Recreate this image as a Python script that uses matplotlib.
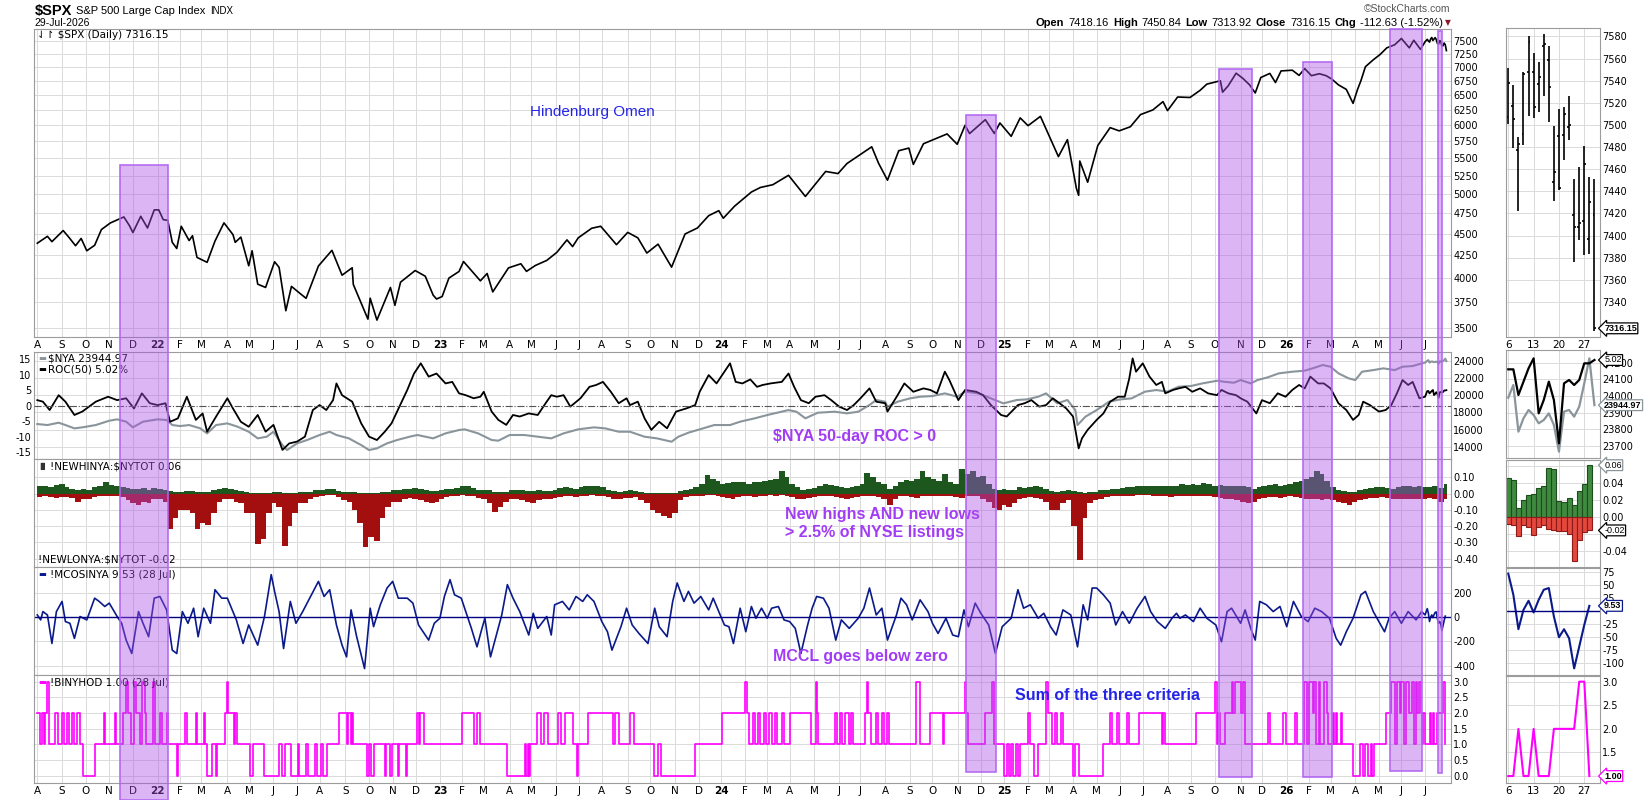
import numpy as np
import pandas as pd
import matplotlib
matplotlib.use("Agg")
import matplotlib.pyplot as plt
from matplotlib.patches import Rectangle
from matplotlib.ticker import NullLocator, NullFormatter
from pandas.tseries.holiday import (AbstractHolidayCalendar, Holiday, USMartinLutherKingJr,
                                    USPresidentsDay, GoodFriday, USMemorialDay, USLaborDay,
                                    USThanksgivingDay, nearest_workday, sunday_to_monday)

plt.rcParams['font.family'] = ['DejaVu Sans']
plt.rcParams['axes.unicode_minus'] = False

# ---------------------------------------------------------------- data
spx = [('2021-08-02',4387),('2021-08-13',4468),('2021-08-19',4405),('2021-09-02',4537),('2021-09-10',4458),
 ('2021-09-20',4358),('2021-09-27',4443),('2021-10-04',4300),('2021-10-13',4363),('2021-10-21',4549),
 ('2021-11-02',4630),('2021-11-18',4704),('2021-11-26',4595),('2021-12-01',4513),('2021-12-10',4712),
 ('2021-12-20',4568),('2021-12-29',4793),('2022-01-04',4793),('2022-01-10',4670),('2022-01-14',4662),
 ('2022-01-21',4398),('2022-01-27',4326),('2022-02-02',4589),('2022-02-11',4418),('2022-02-16',4475),
 ('2022-02-23',4225),('2022-03-08',4170),('2022-03-17',4412),('2022-03-29',4631),('2022-04-08',4488),
 ('2022-04-12',4397),('2022-04-20',4459),('2022-04-29',4132),('2022-05-04',4300),('2022-05-11',3935),
 ('2022-05-20',3901),('2022-06-02',4176),('2022-06-08',4115),('2022-06-16',3667),('2022-06-24',3912),
 ('2022-07-06',3845),('2022-07-14',3790),('2022-07-29',4130),('2022-08-16',4305),('2022-08-29',4030),
 ('2022-09-12',4110),('2022-09-13',3932),('2022-09-30',3586),('2022-10-04',3791),('2022-10-12',3577),
 ('2022-10-28',3901),('2022-11-03',3720),('2022-11-10',3956),('2022-11-30',4080),('2022-12-13',4019),
 ('2022-12-22',3822),('2022-12-28',3783),('2023-01-05',3808),('2023-01-13',3999),('2023-01-27',4070),
 ('2023-02-02',4179),('2023-02-24',3970),('2023-03-06',4048),('2023-03-13',3855),('2023-03-31',4109),
 ('2023-04-18',4154),('2023-04-25',4071),('2023-05-05',4136),('2023-05-19',4191),('2023-06-02',4282),
 ('2023-06-15',4426),('2023-06-23',4348),('2023-06-30',4450),('2023-07-19',4565),('2023-07-31',4589),
 ('2023-08-18',4370),('2023-09-01',4515),('2023-09-15',4450),('2023-09-27',4274),('2023-10-11',4376),
 ('2023-10-27',4117),('2023-11-14',4496),('2023-11-30',4568),('2023-12-14',4720),('2023-12-28',4783),
 ('2024-01-04',4688),('2024-01-19',4840),('2024-02-09',5026),('2024-02-22',5087),('2024-03-08',5124),
 ('2024-03-28',5254),('2024-04-19',4967),('2024-05-15',5308),('2024-05-31',5278),('2024-06-12',5421),
 ('2024-07-16',5667),('2024-07-24',5427),('2024-08-05',5186),('2024-08-19',5608),('2024-08-30',5648),
 ('2024-09-06',5408),('2024-09-19',5713),('2024-10-18',5864),('2024-10-31',5705),('2024-11-11',6001),
 ('2024-11-15',5870),('2024-12-06',6090),('2024-12-18',5872),('2024-12-26',6037),('2025-01-10',5827),
 ('2025-01-23',6119),('2025-02-03',5994),('2025-02-19',6144),('2025-03-13',5521),('2025-03-25',5776),
 ('2025-04-04',5074),('2025-04-08',4982),('2025-04-09',5457),('2025-04-21',5158),('2025-05-02',5686),
 ('2025-05-19',5963),('2025-05-30',5912),('2025-06-13',5977),('2025-06-27',6173),('2025-07-15',6250),
 ('2025-07-28',6389),('2025-08-01',6238),('2025-08-14',6468),('2025-08-29',6460),('2025-09-12',6584),
 ('2025-09-22',6693),('2025-10-08',6753),('2025-10-10',6552),('2025-10-17',6664),('2025-10-28',6890),
 ('2025-11-05',6796),('2025-11-13',6680),('2025-11-20',6538),('2025-11-28',6812),('2025-12-10',6886),
 ('2025-12-17',6721),('2025-12-24',6932),('2026-01-09',6945),('2026-01-20',6850),('2026-01-27',6975),
 ('2026-02-04',6845),('2026-02-13',6880),('2026-02-24',6845),('2026-03-03',6785),('2026-03-11',6680),
 ('2026-03-20',6600),('2026-03-30',6360),('2026-04-06',6600),('2026-04-09',6755),('2026-04-15',7010),
 ('2026-04-24',7140),('2026-05-04',7240),('2026-05-12',7370),('2026-05-21',7430),('2026-06-01',7555),
 ('2026-06-10',7370),('2026-06-16',7520),('2026-06-25',7340),('2026-07-01',7490)]

roc50 = [('2021-08-02',1.8),('2021-08-09',1.3),('2021-08-17',-1.4),('2021-08-27',3.4),('2021-09-07',1.3),
 ('2021-09-17',-3.0),('2021-09-28',-1.9),('2021-10-14',1.3),('2021-10-29',2.9),('2021-11-10',1.8),
 ('2021-11-22',2.4),('2021-12-02',-0.9),('2021-12-13',4.0),('2021-12-22',0.8),('2022-01-03',0.2),
 ('2022-01-12',0.8),('2022-01-19',-5.2),('2022-01-28',-4.1),('2022-02-09',2.9),('2022-02-22',-4.6),
 ('2022-03-02',-2.5),('2022-03-08',-8.4),('2022-03-18',-3.5),('2022-04-01',2.4),('2022-04-08',-0.9),
 ('2022-04-20',-5.2),('2022-04-29',-6.8),('2022-05-11',-3.0),('2022-05-20',-8.4),('2022-06-01',-6.2),
 ('2022-06-13',-14.3),('2022-06-22',-12.2),('2022-07-01',-11.6),('2022-07-13',-10.0),('2022-07-22',-1.4),
 ('2022-08-01',0.2),('2022-08-09',-1.4),('2022-08-17',1.8),('2022-08-22',7.2),('2022-08-29',3.4),
 ('2022-09-12',1.3),('2022-09-22',-5.7),('2022-10-03',-10.0),('2022-10-12',-11.1),('2022-10-21',-8.4),
 ('2022-10-31',-5.7),('2022-11-09',-0.3),('2022-11-18',5.1),('2022-11-29',10.4),('2022-12-07',13.7),
 ('2022-12-16',9.4),('2022-12-28',10.4),('2023-01-10',7.2),('2023-01-19',7.7),('2023-01-27',4.0),
 ('2023-02-06',3.4),('2023-02-15',2.4),('2023-02-24',2.9),('2023-03-01',4.5),('2023-03-10',-1.9),
 ('2023-03-20',-4.6),('2023-03-29',-6.2),('2023-04-06',-3.0),('2023-04-17',-3.5),('2023-04-27',-2.5),
 ('2023-05-09',-3.0),('2023-05-18',0.8),('2023-05-25',3.4),('2023-06-02',2.9),('2023-06-12',3.4),
 ('2023-06-21',-0.3),('2023-07-05',2.4),('2023-07-17',6.1),('2023-07-25',6.7),('2023-08-02',7.7),
 ('2023-08-11',4.5),('2023-08-22',0.8),('2023-08-31',2.4),('2023-09-06',0.2),('2023-09-15',1.3),
 ('2023-09-25',-4.1),('2023-10-03',-7.8),('2023-10-12',-5.2),('2023-10-23',-7.3),('2023-11-02',-1.9),
 ('2023-11-15',-0.9),('2023-11-28',0.2),('2023-12-04',4.5),('2023-12-14',9.9),('2023-12-26',7.2),
 ('2024-01-12',13.7),('2024-01-22',7.7),('2024-01-30',7.2),('2024-02-08',8.5),('2024-02-16',6.1),
 ('2024-02-26',6.7),('2024-03-06',7.2),('2024-03-20',7.7),('2024-03-28',10.4),('2024-04-05',6.1),
 ('2024-04-15',1.8),('2024-04-24',0.8),('2024-05-02',2.9),('2024-05-14',3.4),('2024-05-22',1.8),
 ('2024-06-03',-0.3),('2024-06-12',-1.4),('2024-06-21',0.2),('2024-07-01',2.4),('2024-07-12',5.6),
 ('2024-07-22',1.3),('2024-08-01',0.8),('2024-08-05',-1.9),('2024-08-16',3.4),('2024-08-26',7.2),
 ('2024-09-06',4.5),('2024-09-19',5.6),('2024-09-27',5.1),('2024-10-07',4.0),('2024-10-16',11.0),
 ('2024-10-22',8.3),('2024-11-01',1.8),('2024-11-11',5.1),('2024-11-25',4.5),('2024-12-04',3.4),
 ('2024-12-13',0.2),('2024-12-27',-3.0),('2025-01-06',-3.5),('2025-01-21',0.2),('2025-01-29',0.8),
 ('2025-02-06',1.8),('2025-02-18',-0.3),('2025-02-26',0.2),('2025-03-06',2.4),('2025-03-14',0.8),
 ('2025-03-24',-0.9),('2025-04-01',-3.5),('2025-04-08',-13.8),('2025-04-11',-10.5),('2025-04-21',-7.8),
 ('2025-05-01',-4.6),('2025-05-09',-2.5),('2025-05-19',1.3),('2025-05-29',2.9),('2025-06-06',2.9),
 ('2025-06-12',8.8),('2025-06-17',15.3),('2025-06-23',11.0),('2025-07-01',13.7),('2025-07-10',9.4),
 ('2025-07-18',6.7),('2025-07-25',7.7),('2025-07-30',4.0),('2025-08-08',5.1),('2025-08-15',5.6),
 ('2025-08-25',6.1),('2025-09-03',4.5),('2025-09-12',5.6),('2025-09-23',4.0),('2025-10-03',3.4),
 ('2025-10-09',5.1),('2025-10-17',4.0),('2025-10-28',3.4),('2025-11-03',2.4),('2025-11-11',1.3),
 ('2025-11-21',-2.5),('2025-12-01',1.8),('2025-12-10',0.8),('2025-12-19',4.0),('2025-12-31',2.9),
 ('2026-01-09',5.1),('2026-01-20',6.7),('2026-01-27',5.6),('2026-02-03',9.4),('2026-02-12',7.2),
 ('2026-02-20',7.2),('2026-03-02',5.6),('2026-03-11',0.8),('2026-03-20',-1.4),('2026-03-30',-4.6),
 ('2026-04-07',-3.0),('2026-04-13',1.3),('2026-04-21',0.2),('2026-05-01',-1.9),('2026-05-11',-1.4),
 ('2026-05-18',0.2),('2026-05-26',4.0),('2026-06-02',8.3),('2026-06-09',6.7),('2026-06-15',7.7),
 ('2026-06-24',2.4),('2026-07-01',2.9)]

nya = [('2021-08-02',16635),('2021-08-13',16520),('2021-08-27',16790),('2021-09-07',16520),('2021-09-17',16130),
 ('2021-09-28',16250),('2021-10-14',16520),('2021-11-01',17020),('2021-11-10',17180),('2021-11-22',16910),
 ('2021-12-01',16250),('2021-12-14',16910),('2022-01-03',17180),('2022-01-13',17100),('2022-01-21',16520),
 ('2022-02-01',16400),('2022-02-11',16520),('2022-02-28',16130),('2022-03-08',15550),('2022-03-18',16520),
 ('2022-04-01',16710),('2022-04-14',16330),('2022-04-29',15740),('2022-05-11',14970),('2022-05-23',15160),
 ('2022-06-01',15740),('2022-06-13',14190),('2022-06-17',13610),('2022-07-01',14390),('2022-07-15',14780),
 ('2022-08-01',15360),('2022-08-12',15740),('2022-08-22',15360),('2022-09-07',14970),('2022-09-22',14190),
 ('2022-10-03',13610),('2022-10-12',13810),('2022-10-25',14390),('2022-11-07',14780),('2022-11-22',15160),
 ('2022-12-02',15360),('2022-12-22',14970),('2023-01-10',15550),('2023-01-27',15940),('2023-02-03',16020),
 ('2023-02-22',15550),('2023-03-10',14780),('2023-03-20',14700),('2023-04-03',15360),('2023-04-21',15360),
 ('2023-05-09',15160),('2023-05-25',14970),('2023-06-12',15550),('2023-06-30',16020),('2023-07-21',16250),
 ('2023-08-04',16130),('2023-08-22',15740),('2023-09-06',15740),('2023-09-25',15160),('2023-10-10',14970),
 ('2023-10-27',14580),('2023-11-06',15160),('2023-11-17',15630),('2023-12-04',16020),('2023-12-21',16520),
 ('2024-01-12',16520),('2024-01-26',16910),('2024-02-14',17300),('2024-03-01',17680),('2024-03-28',18260),
 ('2024-04-09',18070),('2024-04-19',17300),('2024-05-06',17950),('2024-05-28',18070),('2024-06-12',17880),
 ('2024-06-27',18070),('2024-07-12',18850),('2024-07-22',19430),('2024-08-01',19230),('2024-08-05',18650),
 ('2024-08-16',19230),('2024-09-03',19620),('2024-09-16',19810),('2024-10-01',19890),('2024-10-16',20200),
 ('2024-10-31',19810),('2024-11-11',20400),('2024-11-27',20200),('2024-12-13',19620),('2024-12-31',19040),
 ('2025-01-17',19430),('2025-01-31',19500),('2025-02-14',19810),('2025-02-26',20200),('2025-03-12',19040),
 ('2025-03-25',19430),('2025-04-03',18260),('2025-04-07',16520),('2025-04-16',17490),('2025-05-01',18260),
 ('2025-05-16',19230),('2025-06-02',19500),('2025-06-16',19620),('2025-07-03',20400),('2025-07-18',20590),
 ('2025-08-01',20400),('2025-08-15',20980),('2025-09-02',21060),('2025-09-16',21360),('2025-10-03',21670),
 ('2025-10-13',21560),('2025-10-24',21440),('2025-11-03',21750),('2025-11-14',21360),('2025-11-24',21750),
 ('2025-12-08',22060),('2025-12-22',22530),('2026-01-09',22720),('2026-01-27',22840),('2026-02-05',23110),
 ('2026-02-19',23500),('2026-03-02',23300),('2026-03-11',22530),('2026-03-24',21950),('2026-04-01',21750),
 ('2026-04-10',22720),('2026-04-24',22910),('2026-05-07',23110),('2026-05-21',22910),('2026-06-02',23300),
 ('2026-06-15',23380),('2026-06-24',23610),('2026-07-01',23770)]

# weekly NYSE new-high ratio (weeks starting Mondays, from 2 Aug 2021)
nh_2021 = [.045,.05,.04,.055,.06, .04,.03,.02,.03, .025,.04,.05,.07, .055,.05,.04,.035,.03, .03,.035,.02,.035]
nh_2022 = [.03,.02,.015,.008,.01, .015,.015,.01,.01, .01,.02,.03,.035, .03,.02,.015,.008, .005,.004,.005,.006,.008,
           .008,.004,.003,.005, .008,.01,.012,.02, .025,.03,.03,.015,.01, .012,.01,.004,.003,
           .003,.004,.008,.012,.02, .025,.03,.03,.035, .03,.02,.015,.015]
nh_2023 = [.02,.03,.03,.035,.045, .05,.035,.025,.02, .02,.01,.008,.012, .02,.025,.02,.015, .015,.02,.015,.015,.025,
           .035,.04,.035,.03, .04,.045,.05,.045,.04, .025,.015,.012,.015, .02,.015,.012,.006,
           .004,.006,.005,.004,.006, .015,.025,.03,.04, .06,.115,.09,.08]
nh_2024 = [.06,.065,.07,.07,.07, .06,.07,.075,.08, .085,.09,.137,.1, .06,.04,.025,.03,.035, .05,.06,.055,.045,
           .04,.035,.04,.045, .06,.13,.1,.07,.06, .03,.05,.07,.085, .08,.09,.137,.1,.09,
           .08,.12,.075,.06, .15,.12,.14,.1, .11,.06,.03,.025,.03]
nh_2025 = [.02,.025,.04,.035, .04,.045,.04,.03, .015,.01,.015,.02,.015, .008,.005,.008,.012, .02,.025,.03,.03,
           .035,.04,.04,.045,.05, .05,.045,.05,.045, .045,.05,.06,.055, .06,.055,.065,.06,.05,
           .055,.05,.045,.05, .045,.04,.03,.04, .05,.055,.06,.05,.055]
nh_2026 = [.06,.07,.08,.09, .1,.14,.12,.08, .04,.02,.015,.012,.01, .02,.03,.035,.04, .04,.035,.03,.04,
           .045,.05,.04,.045,.04, .04,.045,.035,.06]

# weekly NYSE new-low ratio (negative)
nl_2021 = [-.02,-.015,-.02,-.025,-.02, -.02,-.025,-.05,-.03, -.035,-.02,-.015,-.012,
           -.012,-.015,-.02,-.04,-.06, -.07,-.05,-.06,-.035]
nl_2022 = [-.03,-.05,-.22,-.15,-.1, -.1,-.12,-.22,-.18, -.19,-.12,-.05,-.03, -.03,-.05,-.06,-.12,
           -.12,-.31,-.28,-.12,-.06, -.08,-.32,-.2,-.12, -.06,-.06,-.03,-.02, -.015,-.01,-.01,-.02,-.04,
           -.05,-.1,-.18,-.33, -.27,-.29,-.15,-.08,-.05, -.05,-.03,-.025,-.03, -.04,-.05,-.06,-.05]
nl_2023 = [-.03,-.02,-.015,-.015,-.01, -.012,-.015,-.025,-.03, -.06,-.11,-.08,-.05, -.03,-.03,-.04,-.05,
           -.06,-.04,-.03,-.03,-.025, -.02,-.015,-.015,-.02, -.015,-.012,-.01,-.012,-.012,
           -.02,-.03,-.035,-.025, -.025,-.02,-.04,-.06, -.1,-.12,-.14,-.15,-.12,
           -.04,-.02,-.015,-.015, -.012,-.01,-.01,-.012]
nl_2024 = [-.02,-.025,-.03,-.02,-.015, -.015,-.02,-.015,-.012, -.01,-.012,-.01,-.012, -.02,-.03,-.035,-.025,-.02,
           -.015,-.012,-.015,-.02, -.025,-.03,-.025,-.02, -.015,-.012,-.015,-.02,-.03,
           -.07,-.035,-.015,-.012, -.02,-.025,-.012,-.012,-.015, -.015,-.012,-.015,-.02,
           -.025,-.012,-.012,-.015, -.03,-.05,-.09,-.1,-.07]
nl_2025 = [-.08,-.06,-.03,-.025, -.02,-.025,-.035,-.05, -.1,-.1,-.06,-.04,-.2, -.41,-.15,-.06,-.04,
           -.03,-.02,-.015,-.015, -.015,-.012,-.012,-.01,-.01, -.01,-.012,-.012,-.015,
           -.02,-.015,-.015,-.012, -.015,-.012,-.012,-.015,-.02, -.025,-.035,-.03,-.04,
           -.05,-.06,-.05,-.03, -.025,-.02,-.02,-.025,-.02]
nl_2026 = [-.015,-.02,-.025,-.03, -.035,-.03,-.04,-.035, -.04,-.05,-.06,-.07,-.05, -.04,-.03,-.025,-.025,
           -.02,-.025,-.03,-.035, -.03,-.035,-.03,-.03,-.035, -.025,-.03,-.05,-.03]

mccl_dates = ['2021-08-02','2021-08-05','2021-08-09','2021-08-13','2021-08-19','2021-08-25','2021-09-01','2021-09-07',
 '2021-09-13','2021-09-17','2021-09-24','2021-10-04','2021-10-13','2021-10-19','2021-10-26','2021-11-01','2021-11-10',
 '2021-11-16','2021-11-22','2021-11-30','2021-12-08','2021-12-14','2021-12-21','2021-12-29',
 '2022-01-05','2022-01-13','2022-01-21','2022-01-27','2022-02-03','2022-02-10','2022-02-17','2022-02-24','2022-03-03',
 '2022-03-11','2022-03-17','2022-03-25','2022-04-01','2022-04-13','2022-04-22','2022-04-29','2022-05-11','2022-05-19',
 '2022-05-27','2022-06-02','2022-06-08','2022-06-14','2022-06-23','2022-06-30','2022-07-11','2022-07-20','2022-07-29',
 '2022-08-05','2022-08-12','2022-08-22','2022-08-29','2022-09-02','2022-09-09','2022-09-16','2022-09-27','2022-10-04',
 '2022-10-07','2022-10-17','2022-10-25','2022-11-01','2022-11-08','2022-11-18','2022-11-28','2022-12-05','2022-12-16',
 '2022-12-23',
 '2023-01-03','2023-01-09','2023-01-17','2023-01-23','2023-01-31','2023-02-03','2023-02-13','2023-02-21','2023-02-27',
 '2023-03-02','2023-03-09','2023-03-17','2023-03-23','2023-03-30','2023-04-06','2023-04-17','2023-04-27','2023-05-03',
 '2023-05-09','2023-05-19','2023-05-25','2023-05-31','2023-06-09','2023-06-20','2023-06-28','2023-07-07','2023-07-13',
 '2023-07-21','2023-08-01','2023-08-08','2023-08-14','2023-08-24','2023-08-31','2023-09-08','2023-09-18','2023-09-28',
 '2023-10-06','2023-10-12','2023-10-23','2023-10-30','2023-11-03','2023-11-13','2023-11-17','2023-11-27','2023-12-05',
 '2023-12-14','2023-12-20',
 '2024-01-05','2024-01-11','2024-01-18','2024-01-26','2024-02-02','2024-02-09','2024-02-15','2024-02-23','2024-03-01',
 '2024-03-07','2024-03-15','2024-03-22','2024-04-01','2024-04-08','2024-04-15','2024-04-23','2024-04-29','2024-05-03',
 '2024-05-13','2024-05-20','2024-05-29','2024-06-05','2024-06-14','2024-06-27','2024-07-05','2024-07-12','2024-07-22',
 '2024-07-29','2024-08-05','2024-08-15','2024-08-21','2024-08-28','2024-09-05','2024-09-16','2024-09-25','2024-10-01',
 '2024-10-08','2024-10-17','2024-10-25','2024-11-01','2024-11-08','2024-11-14','2024-11-22','2024-12-02','2024-12-11',
 '2024-12-19','2024-12-30',
 '2025-01-10','2025-01-21','2025-01-28','2025-02-05','2025-02-14','2025-02-24','2025-03-04','2025-03-11','2025-03-19',
 '2025-03-28','2025-04-07','2025-04-14','2025-04-21','2025-04-25','2025-05-01','2025-05-09','2025-05-19','2025-05-27',
 '2025-06-04','2025-06-12','2025-06-24','2025-07-03','2025-07-11','2025-07-21','2025-07-30','2025-08-07','2025-08-13',
 '2025-08-18','2025-08-25','2025-09-04','2025-09-12','2025-09-22','2025-10-02','2025-10-09','2025-10-16','2025-10-22',
 '2025-11-03','2025-11-07','2025-11-14','2025-11-20','2025-11-26','2025-12-05','2025-12-15','2025-12-23',
 '2026-01-02','2026-01-12','2026-01-22','2026-01-30','2026-02-09','2026-02-18','2026-02-27','2026-03-09','2026-03-13',
 '2026-03-20','2026-03-30','2026-04-09','2026-04-15','2026-04-24','2026-05-01','2026-05-08','2026-05-14','2026-05-21',
 '2026-06-01','2026-06-09','2026-06-18','2026-06-26','2026-07-01']
mccl_vals = [19,-22,47,19,-217,47,131,-36,-50,-175,6,-22,158,131,89,117,6,-50,-189,-300,47,-50,-161,158,
 172,61,-272,-300,47,-50,75,-161,75,-50,228,158,158,-22,-217,-64,-231,6,353,214,47,-259,131,-50,47,172,297,172,228,
 -64,-231,-328,61,-161,-425,75,-78,103,242,297,158,158,117,-64,-189,-50,
 -8,172,311,186,158,75,-92,-245,-106,-8,-328,-120,19,270,158,47,-147,33,-92,6,-147,103,131,61,172,131,186,131,
 -36,-120,-272,-78,75,-64,-134,-217,75,-78,-161,131,284,131,214,117,172,61,158,
 -64,-78,-217,75,-120,89,-8,75,-8,75,89,-22,-36,-92,-300,-64,75,172,158,75,-189,-22,-92,-8,75,242,19,75,-189,19,
 158,103,-22,144,47,-50,-134,-8,-147,-161,61,-78,117,33,-64,-300,-78,
 -8,228,75,103,-8,33,-78,-147,61,19,-245,103,-22,242,242,186,117,-64,47,-50,75,172,47,-36,-92,-8,33,-8,19,-36,75,
 -8,-64,-203,47,75,-50,61,-92,-189,131,103,47,89,
 -78,131,6,-36,75,47,-8,-175,-231,-120,-8,186,214,47,-36,-120,-8,47,-50,47,-22,47,19]

binyhod_changes = [('2021-08-02',2),('2021-08-04',1),('2021-08-06',2),('2021-08-10',1),('2021-08-11',2),('2021-08-13',3),
 ('2021-08-16',1),('2021-08-24',2),('2021-08-26',1),('2021-09-01',2),('2021-09-03',1),('2021-09-08',2),('2021-09-10',1),
 ('2021-09-15',2),('2021-09-17',1),('2021-09-21',2),('2021-09-24',1),('2021-09-29',0),('2021-10-13',1),('2021-10-25',2),
 ('2021-10-26',1),('2021-11-08',2),('2021-11-09',1),('2021-11-17',2),('2021-11-22',3),('2021-11-24',2),('2021-11-29',1),
 ('2021-12-02',3),('2021-12-06',2),('2021-12-09',1),('2021-12-13',3),('2021-12-16',2),('2021-12-17',1),('2021-12-28',3),
 ('2021-12-30',1),('2022-01-05',2),('2022-01-07',1),('2022-01-13',2),('2022-01-14',1),('2022-01-27',0),('2022-01-28',1),
 ('2022-02-07',2),('2022-02-09',1),('2022-02-22',2),('2022-02-23',1),('2022-03-03',2),('2022-03-04',1),('2022-03-08',0),
 ('2022-03-14',1),('2022-03-18',0),('2022-03-21',1),('2022-03-30',2),('2022-04-01',3),('2022-04-04',2),('2022-04-11',1),
 ('2022-04-12',2),('2022-04-14',1),('2022-05-02',0),('2022-05-05',1),('2022-05-19',0),('2022-06-08',1),('2022-06-13',0),
 ('2022-06-15',1),('2022-06-24',0),('2022-07-05',1),('2022-07-06',0),('2022-07-14',1),('2022-07-18',0),('2022-07-26',1),
 ('2022-07-28',0),('2022-08-02',1),('2022-08-04',0),('2022-08-10',1),('2022-08-24',2),('2022-09-02',1),('2022-09-06',2),
 ('2022-09-09',1),('2022-09-12',2),('2022-09-13',1),('2022-09-29',0),('2022-10-03',1),('2022-10-05',0),('2022-10-07',1),
 ('2022-10-21',0),('2022-10-24',1),('2022-10-28',0),('2022-10-31',1),('2022-11-08',0),('2022-11-09',1),('2022-11-17',0),
 ('2022-11-18',1),('2022-12-02',2),('2022-12-05',1),('2022-12-06',2),('2022-12-12',1),('2023-02-01',2),('2023-02-15',1),
 ('2023-02-21',2),('2023-02-24',1),('2023-03-30',0),('2023-04-24',1),('2023-04-25',0),('2023-04-26',1),('2023-04-27',0),
 ('2023-04-28',1),('2023-05-08',2),('2023-05-12',1),('2023-05-17',2),('2023-05-22',1),('2023-06-05',2),('2023-06-08',1),
 ('2023-06-13',2),('2023-06-23',1),('2023-06-29',0),('2023-06-30',1),('2023-07-14',2),('2023-08-15',1),('2023-08-17',2),
 ('2023-08-22',1),('2023-09-06',2),('2023-09-12',1),('2023-10-05',0),('2023-10-11',1),('2023-10-16',0),('2023-11-28',1),
 ('2024-01-03',2),('2024-02-01',3),('2024-02-05',2),('2024-02-07',1),('2024-02-12',2),('2024-02-14',1),('2024-02-20',2),
 ('2024-02-22',1),('2024-02-27',2),('2024-02-29',1),('2024-03-05',2),('2024-03-07',1),('2024-03-12',2),('2024-03-14',1),
 ('2024-03-20',2),('2024-03-22',1),('2024-04-01',2),('2024-04-26',1),('2024-05-02',3),('2024-05-03',2),('2024-05-06',1),
 ('2024-05-28',2),('2024-05-30',1),('2024-06-04',2),('2024-06-06',1),('2024-06-10',2),('2024-06-14',1),('2024-06-18',2),
 ('2024-06-20',1),('2024-07-08',2),('2024-07-10',3),('2024-07-11',2),('2024-07-15',1),('2024-07-22',2),('2024-07-24',1),
 ('2024-07-29',2),('2024-07-31',1),('2024-08-05',2),('2024-08-06',1),('2024-09-10',3),('2024-09-16',1),('2024-09-27',2),
 ('2024-10-14',1),('2024-10-15',2),('2024-11-11',3),('2024-11-12',2),('2024-11-14',1),('2024-12-06',2),('2024-12-16',3),
 ('2024-12-18',1),('2025-01-02',0),('2025-01-06',1),('2025-01-08',0),('2025-01-10',1),('2025-01-14',0),('2025-01-16',1),
 ('2025-01-21',0),('2025-01-23',1),('2025-02-03',2),('2025-02-05',1),('2025-02-10',0),('2025-02-14',1),('2025-02-26',3),
 ('2025-02-28',2),('2025-03-05',1),('2025-03-10',2),('2025-03-12',1),('2025-03-17',2),('2025-03-19',1),('2025-04-01',0),
 ('2025-04-03',1),('2025-04-08',0),('2025-05-09',1),('2025-05-19',2),('2025-05-21',1),('2025-05-28',2),('2025-05-30',1),
 ('2025-06-10',2),('2025-06-12',1),('2025-06-26',2),('2025-07-25',1),('2025-07-28',2),('2025-07-30',1),('2025-09-08',2),
 ('2025-10-01',3),('2025-10-03',1),('2025-10-06',2),('2025-10-08',1),('2025-10-14',2),('2025-10-22',3),('2025-10-23',2),
 ('2025-10-27',3),('2025-11-03',2),('2025-11-05',3),('2025-11-07',1),('2025-12-08',2),('2025-12-10',1),('2025-12-29',2),
 ('2025-12-31',1),('2026-01-13',2),('2026-01-15',1),('2026-01-26',3),('2026-01-29',1),('2026-02-02',3),('2026-02-05',2),
 ('2026-02-06',3),('2026-02-10',1),('2026-02-13',3),('2026-02-17',1),('2026-02-20',3),('2026-02-25',2),('2026-02-26',1),
 ('2026-03-04',2),('2026-03-05',1),('2026-03-09',2),('2026-03-10',1),('2026-03-13',2),('2026-03-16',1),('2026-03-30',0),
 ('2026-04-08',1),('2026-04-13',0),('2026-04-15',1),('2026-04-17',0),('2026-04-22',1),('2026-04-23',0),('2026-04-27',1),
 ('2026-05-11',2),('2026-05-18',3),('2026-05-21',1),('2026-05-26',3),('2026-05-29',2),('2026-06-01',3),('2026-06-03',1),
 ('2026-06-05',3),('2026-06-10',2),('2026-06-12',3),('2026-06-16',1),('2026-06-18',3),('2026-06-22',2),('2026-06-24',3),
 ('2026-06-25',2),('2026-06-26',1),('2026-06-29',2),('2026-07-01',1)]

# July 2026 daily detail (right-hand zoom panel)
mini_dates = ['2026-07-06','2026-07-07','2026-07-08','2026-07-09','2026-07-10','2026-07-13','2026-07-14','2026-07-15',
              '2026-07-16','2026-07-17','2026-07-20','2026-07-21','2026-07-22','2026-07-23','2026-07-24','2026-07-27',
              '2026-07-28','2026-07-29']
mini_open  = [7507,7517,7477,7492,7548,7548,7537,7571,7559,7448,7490,7491,7498,7419,7408,7413,7397,7418.16]
mini_high  = [7551,7536,7489,7548,7580,7565,7557,7582,7571,7499,7514,7516,7526,7451,7462,7481,7453,7450.84]
mini_low   = [7501,7479,7422,7482,7508,7506,7512,7526,7503,7431,7441,7468,7486,7376,7396,7382,7383,7313.92]
mini_close = [7538,7505,7483,7546,7575,7516,7543,7573,7534,7457,7443,7510,7500,7408,7411,7465,7430,7316.15]
mini_nya   = [23990,24066,23786,23866,23916,23886,23836,23856,23896,23826,23666,23906,23916,23876,23936,24076,24226,23944.97]
mini_roc   = [4.74,4.74,3.97,4.37,4.77,5.07,3.42,3.82,4.37,3.82,2.52,4.32,4.42,4.27,4.42,4.92,4.92,5.02]
mini_nh    = [0.046,0.044,0.010,0.020,0.026,0.027,0.034,0.037,0.058,0.056,0.019,0.017,0.022,0.014,0.031,0.039,0.061]
mini_nl    = [-0.009,-0.010,-0.023,-0.010,-0.012,-0.021,-0.012,-0.010,-0.014,-0.016,-0.017,-0.017,-0.020,-0.052,-0.027,-0.018,-0.016]
mini_mccl  = [71.4,30.9,-35.4,1.9,19.3,-3.2,21.2,40.5,43.8,-10.9,-50.8,-35.4,-52.8,-110.7,-68.9,-27.0,9.53]
mini_binyhod = [1,1,2,1,1,2,1,1,1,2,2,2,2,2,3,3,1]
mini_day_labels = ['6', '13', '20', '27']

# Hindenburg Omen highlight periods: start, end, top (S&P price), bottom (BINYHOD value, None = page bottom)
hl_start = ['2021-11-15', '2024-11-12', '2025-10-07', '2026-01-26', '2026-05-15', '2026-07-20']
hl_end   = ['2022-01-14', '2024-12-19', '2025-11-17', '2026-03-03', '2026-06-26', '2026-07-23']
hl_top   = [5401, 6167, 6969, 7094, 7748, 7710]
hl_bot   = [None, 0.13, -0.03, -0.03, 0.15, 0.08]

# ---------------------------------------------------------------- trading calendar
class NYSECalendar(AbstractHolidayCalendar):
    rules = [Holiday('NewYear', month=1, day=1, observance=sunday_to_monday),
             USMartinLutherKingJr, USPresidentsDay, GoodFriday, USMemorialDay,
             Holiday('Juneteenth', month=6, day=19, start_date='2022-01-01', observance=nearest_workday),
             Holiday('July4', month=7, day=4, observance=nearest_workday),
             USLaborDay, USThanksgivingDay,
             Holiday('Christmas', month=12, day=25, observance=nearest_workday)]

hol = NYSECalendar().holidays(start='2021-07-01', end='2026-12-31')
bd = pd.bdate_range('2021-08-02', '2026-07-29')
sessions = bd[~bd.isin(hol)]
N = len(sessions)


def sidx(dates):
    d = pd.to_datetime(pd.Index(list(dates))).values
    return np.searchsorted(sessions.values, d)


def unzip(pairs):
    return [p[0] for p in pairs], [p[1] for p in pairs]

# ---------------------------------------------------------------- figure
W, H = 1650, 800
fig = plt.figure(figsize=(W / 100, H / 100), dpi=100)
fig.patch.set_facecolor('white')
renderer = fig.canvas.get_renderer()


def box(x0, y0, x1, y1):
    return [x0 / W, 1 - y1 / H, (x1 - x0) / W, (y1 - y0) / H]


def ftext(x, y, s, **kw):
    kw.setdefault('va', 'center')
    return fig.text(x / W, 1 - y / H, s, **kw)


def chain(x, y, parts, gap=4, **kw):
    for s, size, bold in parts:
        t = ftext(x, y, s, fontsize=size, fontweight='bold' if bold else 'normal', **kw)
        x = t.get_window_extent(renderer).x1 + gap
    return x


GRID = '#dadada'
FRAME = '#9c9c9c'
GREY = '#8a959b'
NAVY = '#0b1a8a'
MAGENTA = '#ff00ff'
PURPLE = '#a23cf5'
BLUE = '#2424e8'

ax1 = fig.add_axes(box(34, 29, 1451, 337))
ax2 = fig.add_axes(box(34, 352, 1451, 459), sharex=ax1)
ax3 = fig.add_axes(box(34, 459, 1451, 567), sharex=ax1)
ax4 = fig.add_axes(box(34, 567, 1451, 675), sharex=ax1)
ax5 = fig.add_axes(box(34, 675, 1451, 783), sharex=ax1)
m1 = fig.add_axes(box(1506, 28, 1600, 337))
m2 = fig.add_axes(box(1506, 350, 1600, 458), sharex=m1)
m3 = fig.add_axes(box(1506, 460, 1600, 567), sharex=m1)
m4 = fig.add_axes(box(1506, 568, 1600, 675), sharex=m1)
m5 = fig.add_axes(box(1506, 676, 1600, 783), sharex=m1)


def style(ax):
    for s in ax.spines.values():
        s.set_color(FRAME)
        s.set_linewidth(0.8)
    ax.grid(True, color=GRID, lw=0.7)
    ax.set_axisbelow(True)
    ax.yaxis.tick_right()
    ax.tick_params(axis='both', which='both', labelsize=7, length=0, pad=1.5)


for a in (ax1, ax2, ax3, ax4, ax5, m1, m2, m3, m4, m5):
    style(a)

# x axis (trading-day positions)
kpx = (1446.4 - 37.3) / (N - 1)
ax1.set_xlim(-(37.3 - 34) / kpx, (N - 1) + (1451 - 1446.4) / kpx)
months = pd.date_range('2021-08-01', '2026-07-01', freq='MS')
mpos = sidx(months)
mlab = [m.strftime('%y') if m.month == 1 else m.strftime('%b')[0] for m in months]
for a in (ax1, ax2, ax3, ax4, ax5):
    a.set_xticks(mpos)
    a.tick_params(axis='x', labelbottom=False)
for a in (ax1, ax5):
    a.set_xticklabels(mlab)
    a.tick_params(axis='x', labelbottom=True, labelsize=7.5, pad=2)
    for lbl, m in zip(a.get_xticklabels(), months):
        if m.month == 1:
            lbl.set_fontweight('bold')

# panel 1: S&P 500
d, v = unzip(spx)
ax1.plot(sidx(d + mini_dates), v + mini_close, color='black', lw=1.2)
ax1.set_yscale('log')
ax1.set_ylim(3420, 7748)
ax1.yaxis.set_minor_locator(NullLocator())
ax1.yaxis.set_minor_formatter(NullFormatter())
ticks1 = list(range(3500, 7501, 250))
ax1.set_yticks(ticks1)
ax1.set_yticklabels([str(t) for t in ticks1])

# panel 2: NYA (right scale) and ROC(50) (left scale)
d, v = unzip(nya)
ax2.plot(sidx(d + mini_dates), v + mini_nya, color=GREY, lw=1.5)
ax2.set_ylim(12570, 25012)
ax2.set_yticks(range(14000, 24001, 2000))
ax2r = ax2.twinx()
ax2.yaxis.tick_right()
for s in ax2r.spines.values():
    s.set_visible(False)
ax2r.yaxis.tick_left()
ax2r.tick_params(axis='y', labelsize=7, length=0, pad=2)
d, v = unzip(roc50)
ax2r.plot(sidx(d + mini_dates), v + mini_roc, color='black', lw=1.3)
ax2r.axhline(0, color='#555555', lw=0.8, ls='-.')
ax2r.set_ylim(-17.23, 17.36)
ax2r.set_yticks(range(-15, 16, 5))

# panel 3: new highs / new lows
nh = nh_2021 + nh_2022 + nh_2023 + nh_2024 + nh_2025 + nh_2026
nl = nl_2021 + nl_2022 + nl_2023 + nl_2024 + nl_2025 + nl_2026
wk = pd.date_range('2021-08-02', periods=len(nh), freq='W-MON')
ws = sidx(wk)
we = np.append(ws[1:], N)
wc = (ws + we - 1) / 2.0
ax3.bar(wc, nh, width=(we - ws), color='#1d571d', linewidth=0)
ax3.bar(wc, nl, width=(we - ws), color='#a30e0e', linewidth=0)
ax3.set_ylim(-0.452, 0.214)
t3 = [0.10, 0.0, -0.10, -0.20, -0.30, -0.40]
ax3.set_yticks(t3)
ax3.set_yticklabels(['%.2f' % t for t in t3])

# panel 4: McClellan oscillator
ax4.plot(sidx(mccl_dates + mini_dates[:-1]), mccl_vals + mini_mccl, color=NAVY, lw=1.2)
ax4.axhline(0, color='#000080', lw=1.0)
ax4.set_ylim(-478, 416)
ax4.set_yticks([200, 0, -200, -400])

# panel 5: sum of criteria
d, v = unzip(binyhod_changes)
ax5.plot(sidx(d + mini_dates[:-1]), v + mini_binyhod, color=MAGENTA, lw=1.2, drawstyle='steps-post')
ax5.set_ylim(-0.235, 3.215)
t5 = [0.0, 0.5, 1.0, 1.5, 2.0, 2.5, 3.0]
ax5.set_yticks(t5)
ax5.set_yticklabels(['%.1f' % t for t in t5])

# ---------------------------------------------------------------- mini panels (July 2026)
xm = np.arange(len(mini_dates))
m1.set_xlim(-0.45, 18.1)
mtick = [mini_dates.index(s) for s in ['2026-07-06', '2026-07-13', '2026-07-20', '2026-07-27']]
for a in (m1, m2, m3, m4, m5):
    a.set_xticks(mtick)
    a.tick_params(axis='x', labelbottom=False)
for a in (m1, m5):
    a.set_xticklabels(mini_day_labels)
    a.tick_params(axis='x', labelbottom=True, labelsize=7.5, pad=2)

m1.vlines(xm, mini_low, mini_high, color='black', lw=1.2)
m1.hlines(mini_open, xm - 0.38, xm, color='black', lw=1.2)
m1.hlines(mini_close, xm, xm + 0.38, color='black', lw=1.2)
m1.set_ylim(7308.3, 7587.6)
m1.set_yticks(range(7340, 7581, 20))

m2.plot(xm, mini_nya, color=GREY, lw=1.6)
m2.set_ylim(23628, 24276)
m2.set_yticks(range(23700, 24201, 100))
m2r = m2.twinx()
m2.yaxis.tick_right()
m2r.set_axis_off()
m2r.plot(xm, mini_roc, color='black', lw=1.6)
m2r.set_ylim(2.08, 5.32)

xb = xm[:-1]
m3.bar(xb, mini_nh, width=1.0, color='#3f8a3f', edgecolor='#1d4d1d', lw=0.8)
m3.bar(xb, mini_nl, width=1.0, color='#e2483c', edgecolor='#8e1a1a', lw=0.8)
m3.set_ylim(-0.0592, 0.0671)
t3m = [0.06, 0.04, 0.02, 0.0, -0.02, -0.04]
m3.set_yticks(t3m)
# the -0.02 label sits under the last-value tag, as in the original
m3.set_yticklabels(['' if t == -0.02 else '%.2f' % t for t in t3m])

m4.plot(xb, mini_mccl, color=NAVY, lw=1.5)
m4.axhline(0, color='#000080', lw=1.0)
m4.set_ylim(-123.4, 82.3)
t4m = list(range(-100, 76, 25))
m4.set_yticks(t4m)
# the 0 label sits under the last-value tag, as in the original
m4.set_yticklabels(['' if t == 0 else str(t) for t in t4m])

m5.plot(xb, mini_binyhod, color=MAGENTA, lw=1.5)
m5.set_ylim(0.853, 3.12)
t5m = [1.0, 1.5, 2.0, 2.5, 3.0]
m5.set_yticks(t5m)
# the 1.0 label sits under the last-value tag, as in the original
m5.set_yticklabels(['' if t == 1.0 else '%.1f' % t for t in t5m])


def tag(ax, y, s, ec, tc='black', bold=False):
    ax.annotate(s, xy=(1, y), xycoords=ax.get_yaxis_transform(), xytext=(3, 0),
                textcoords='offset points', va='center', ha='left', fontsize=6.5,
                family='Liberation Sans', fontweight='bold' if bold else 'normal', color=tc,
                annotation_clip=False, zorder=30,
                bbox=dict(boxstyle='larrow,pad=0.1', fc='white', ec=ec, lw=0.9))


tag(m1, mini_close[-1], '%.2f' % mini_close[-1], 'black', bold=True)
tag(m2r, mini_roc[-1], '%.2f' % mini_roc[-1], 'black')
tag(m2, mini_nya[-1], '%.2f' % mini_nya[-1], GREY, bold=True)
tag(m3, mini_nh[-1], '%.2f' % mini_nh[-1], GREY)
tag(m3, mini_nl[-1], '%.2f' % mini_nl[-1], 'black')
tag(m4, mini_mccl[-1], '%.2f' % mini_mccl[-1], NAVY, bold=True)
tag(m5, mini_binyhod[-1], '%.2f' % mini_binyhod[-1], MAGENTA, bold=True)

# ---------------------------------------------------------------- texts
LS = 'Liberation Sans'
chain(35, 10.5, [('$SPX', 10.5, True), ('S&P 500 Large Cap Index', 8, False), ('INDX', 7, False)],
      gap=4, family=LS)
ftext(34, 22.7, '29-Jul-2026', fontsize=7.5, family=LS)
ftext(1450, 9.3, '\u00a9StockCharts.com', fontsize=7.5, color='#555555', ha='right', family=LS)
xend = chain(1036, 22.7, [('Open', 8, True), ('7418.16', 8, False), ('High', 8, True), ('7450.84', 8, False),
                          ('Low', 8, True), ('7313.92', 8, False), ('Close', 8, True), ('7316.15', 8, False),
                          ('Chg', 8, True), ('-112.63 (-1.52%)', 8, False)], gap=4, family=LS)
ftext(xend - 2, 22.5, '\u25bc', fontsize=5.5, color='#8b1a2a')

ftext(37, 35, '\u21c3\u21be $SPX (Daily) 7316.15', fontsize=7.5)
ftext(38, 358.5, '\u25ac', fontsize=6, color=GREY)
ftext(48, 358.5, '$NYA 23944.97', fontsize=7.5)
ftext(38, 369.3, '\u25ac', fontsize=6, color='black')
ftext(48, 369.3, 'ROC(50) 5.02%', fontsize=7.5)
ftext(37, 466.7, '\u2590\u258c', fontsize=5, color='#333333')
ftext(50, 466.7, '!NEWHINYA:$NYTOT 0.06', fontsize=7.5)
ftext(38, 560, '!NEWLONYA:$NYTOT -0.02', fontsize=7.5)
ftext(38, 575, '\u25ac', fontsize=6, color=NAVY)
ftext(50, 575, '!MCOSINYA 9.53 (28 Jul)', fontsize=7.5)
ftext(38, 682.7, '\u25ac', fontsize=6, color=MAGENTA)
ftext(50, 682.7, '!BINYHOD 1.00 (28 Jul)', fontsize=7.5)

ftext(530, 111.7, 'Hindenburg Omen', fontsize=11, color=BLUE, family=LS)
ftext(773, 436.7, '$NYA 50-day ROC > 0', fontsize=11.5, color=PURPLE, fontweight='bold', family=LS)
ftext(785, 514, 'New highs AND new lows', fontsize=11.5, color=PURPLE, fontweight='bold', family=LS)
ftext(785, 533, '> 2.5% of NYSE listings', fontsize=11.5, color=PURPLE, fontweight='bold', family=LS)
ftext(773, 656.7, 'MCCL goes below zero', fontsize=11.5, color=PURPLE, fontweight='bold', family=LS)
ftext(1015, 695.7, 'Sum of the three criteria', fontsize=11.5, color=BLUE, fontweight='bold', family=LS)

# ---------------------------------------------------------------- highlight bands
inv = fig.transFigure.inverted()
for s, e, top, bot in zip(hl_start, hl_end, hl_top, hl_bot):
    i0 = sidx([s])[0] - 0.5
    i1 = sidx([e])[0] + 0.5
    p_top = ax1.transData.transform((i0, top))
    p_r = ax1.transData.transform((i1, top))
    yb = 0.0 if bot is None else ax5.transData.transform((i0, bot))[1]
    f0 = inv.transform((p_top[0], yb))
    f1 = inv.transform((p_r[0], p_top[1]))
    fig.add_artist(Rectangle((f0[0], f0[1]), f1[0] - f0[0], f1[1] - f0[1], transform=fig.transFigure,
                             facecolor=(170 / 255, 80 / 255, 230 / 255, 0.42),
                             edgecolor=(0.70, 0.40, 0.95, 0.95), lw=1.2, zorder=10))

fig.savefig('out.png', dpi=100, facecolor='white')
